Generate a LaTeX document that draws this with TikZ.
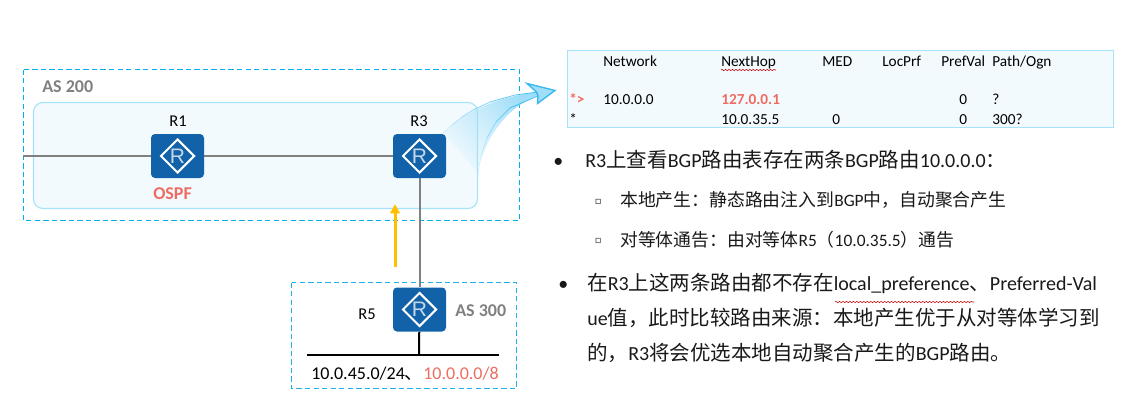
\documentclass[tikz,border=0pt]{standalone}
\usepackage{fontspec}
\setmainfont{Carlito}
\newfontfamily\cjk[Scale=1.025]{Noto Sans CJK SC}
\newfontfamily\dvu{DejaVu Sans}
\newfontfamily\rfont{Liberation Sans}
\usetikzlibrary{arrows.meta,shapes.geometric,decorations.pathmorphing,fadings}
\newcommand\C[1]{{\cjk #1}}
\newcommand\px[1]{\fontsize{\fpeval{#1*0.75}}{\fpeval{#1*0.9}}\selectfont}
\definecolor{routerblue}{HTML}{1262A9}
\definecolor{palefill}{HTML}{F2FAFE}
\definecolor{paleedge}{HTML}{A6E3FA}
\definecolor{dashblue}{HTML}{1CB0EE}
\definecolor{dashouter}{HTML}{00B0F0}
\definecolor{linkgray}{HTML}{808080}
\definecolor{salmon}{HTML}{EE6C62}
\definecolor{amber}{HTML}{FFC000}
\definecolor{headfill}{HTML}{9FDDF8}
\definecolor{headedge}{HTML}{35B9EF}
\tikzfading[name=ribbonfade,left color=transparent!100,right color=transparent!0]
\tikzset{
  asbox/.style={draw=dashblue,line width=0.8pt,dash pattern=on 4pt off 2.4pt},
  asouter/.style={draw=dashouter,line width=1pt,dash pattern=on 4pt off 2.4pt},
  palebox/.style={draw=paleedge,line width=0.8pt,fill=palefill},
  routerbox/.style={rectangle,rounded corners=3pt,fill=routerblue,minimum width=39.75pt,minimum height=33pt,inner sep=0pt},
  routermark/.style={diamond,draw=white,line width=1.5pt,minimum width=25.5pt,minimum height=25.5pt,inner sep=0pt,text=white!75!routerblue,font=\rfont\px{21}},
  glink/.style={draw=linkgray,line width=1.5pt},
  blink/.style={draw=black,line width=1.5pt},
  rlabel/.style={anchor=center,inner sep=0pt,font=\px{16.5}},
  aslabel/.style={anchor=base west,inner sep=0pt,text=linkgray,font=\bfseries\px{18}},
  tbl/.style={anchor=base west,inner sep=0pt,font=\px{15.3},text=black},
  txtA/.style={anchor=base west,inner sep=0pt,font=\px{20},text=black!90},
  txtB/.style={anchor=base west,inner sep=0pt,font=\px{17.4},text=black!90},
  squig/.style={draw=red!80!black,line width=0.4pt,decorate,decoration={snake,amplitude=0.5pt,segment length=2.6pt}}
}
\begin{document}
\begin{tikzpicture}[x=0.75pt,y=-0.75pt]
\useasboundingbox (0,0) rectangle (1127,414);
% AS areas
\draw[palebox,rounded corners=7pt] (33.5,102.5) rectangle (477.5,208.5);
\draw[asouter] (23.5,69.5) rectangle (519.5,220.5);
\draw[asbox] (291.5,282.5) rectangle (516.5,388.5);
% table
\draw[palebox,line width=1pt] (567.5,50.5) rectangle (1113.5,127.5);
% curved arrow body
\path[fill=headfill,path fading=ribbonfade,fading angle=35]
  (443,133) .. controls (470,108) and (500,97) .. (538,92)
  -- (538,96) .. controls (510,105) and (485,135) .. (478,173)
  -- cycle;
\foreach \o/\a/\b/\c/\d in {0.15/443/133/452/125,0.3/452/125/462/117,0.45/462/117/473/110,0.6/473/110/490/102,0.75/490/102/515/95,0.9/515/95/538/92}{
  \draw[headedge,line width=0.6pt,opacity=\o] (\a,\b) -- (\c,\d);
}
\foreach \o/\a/\b/\c/\d in {0.12/478/173/481/156,0.25/481/156/487/138,0.4/487/138/496/122,0.6/496/122/510/108,0.85/510/108/538/96}{
  \draw[headedge,line width=0.6pt,opacity=\o] (\a,\b) -- (\c,\d);
}
\draw[fill=headfill,draw=headedge,line width=1pt,line join=miter]
  (527,83.5) -- (555,90.5) -- (537.5,103.5) -- (538,96) -- (536.5,92) -- cycle;
% links
\coordinate (edgeL) at (23,156);
\coordinate (busmid) at (419,355);
\coordinate (busL) at (307,355);
\coordinate (busR) at (499,355);
\coordinate (upfrom) at (395,267);
\coordinate (upto) at (395,204);
\node[routerbox] (r1) at (177.5,156) {};
\node[routerbox] (r3) at (419.5,156) {};
\node[routerbox] (r5) at (419.5,309.5) {};
\draw[glink] (edgeL) -- (r1);
\draw[glink] (r1) -- (r3);
\draw[glink] (r3) -- (r5);
\draw[blink] (r5) -- (busmid);
\draw[blink] (busL) -- (busR);
\draw[draw=amber,line width=2.25pt,-{Triangle[length=7pt,width=7pt]}] (upfrom) -- (upto);
\node[routermark] (m1) at (r1) {R};
\node[routermark] (m3) at (r3) {R};
\node[routermark] (m5) at (r5) {R};
% network labels
\node[rlabel] (l1) at (178,121) {R1};
\node[rlabel] (l3) at (419,121) {R3};
\node[rlabel] (l5) at (367,314) {R5};
\node[aslabel] (as2) at (42,92) {AS 200};
\node[aslabel] (as3) at (455,316) {AS 300};
\node[aslabel,text=salmon] (ospf) at (153,199) {OSPF};
\node[anchor=base,inner sep=0pt,font=\px{18}] (net) at (405,379) {10.0.45.0/24\C{、}\textcolor{salmon}{10.0.0.0/8}};
% table text
\node[tbl] (h1) at (603,66) {Network};
\node[tbl] (h2) at (721,66) {NextHop};
\node[tbl] (h3) at (822,66) {MED};
\node[tbl] (h4) at (882,66) {LocPrf};
\node[tbl] (h5) at (941,66) {PrefVal};
\node[tbl] (h6) at (992,66) {Path/Ogn};
\node[tbl,text=salmon,font=\bfseries\px{15.3}] (a0) at (569,104) {*>};
\node[tbl] (a1) at (603,104) {10.0.0.0};
\node[tbl,text=salmon,font=\bfseries\px{15.3}] (a2) at (721,104) {127.0.0.1};
\node[tbl] (a5) at (959,104) {0};
\node[tbl] (a6) at (992,104) {?};
\node[tbl] (b0) at (569,124) {*};
\node[tbl] (b2) at (721,124) {10.0.35.5};
\node[tbl] (b3) at (832,124) {0};
\node[tbl] (b5) at (959,124) {0};
\node[tbl] (b6) at (992,124) {300?};
\coordinate (sq1a) at (721,70); \coordinate (sq1b) at (776,70);
\draw[squig] (sq1a) -- (sq1b);
% right text
\node[txtA] (t0) at (553,167) {•};
\node[txtA] (t1) at (585,167) {R3\C{上查看}BGP\C{路由表存在两条}BGP\C{路由}10.0.0.0\C{：}};
\node[txtB,font=\dvu\px{10}] (t2a) at (594.5,204) {▫};
\node[txtB] (t2) at (620,206) {\C{本地产生：静态路由注入到}BGP\C{中，自动聚合产生}};
\node[txtB,font=\dvu\px{10}] (t3a) at (594.5,243) {▫};
\node[txtB] (t3) at (620,246) {\C{对等体通告：由对等体}R5\C{（}10.0.35.5\C{）通告}};
\node[txtA] (t4) at (558,290) {•};
\node[txtA] (t5) at (587,290) {\C{在}R3\C{上这两条路由都不存在}local\_preference\C{、}Preferred-Val};
\node[txtA] (t6) at (587,325) {ue\C{值，此时比较路由来源：本地产生优于从对等体学习到}};
\node[txtA] (t7) at (587,360) {\C{的，}R3\C{将会优选本地自动聚合产生的}BGP\C{路由。}};
\coordinate (sq2a) at (835,302); \coordinate (sq2b) at (974,302);
\draw[squig] (sq2a) -- (sq2b);
\end{tikzpicture}
\end{document}
